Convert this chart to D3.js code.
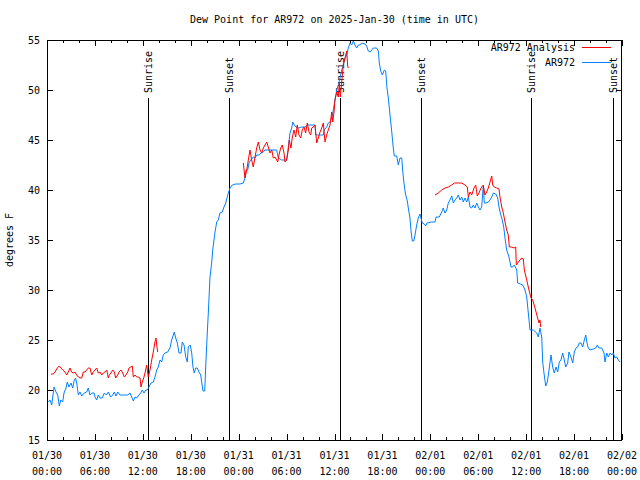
<!DOCTYPE html>
<html><head><meta charset="utf-8">
<script src="https://cdn.jsdelivr.net/npm/d3@7"></script>
<style>
body{margin:0;background:#fff;}
text{font-family:"DejaVu Sans Mono",monospace;font-size:10px;fill:#000;}
</style></head><body>
<svg id="c" width="640" height="480"></svg>
<script>
const title = "Dew Point for AR972 on 2025-Jan-30 (time in UTC)";
const yLabel = "degrees F";
const seriesNames = ["AR972 Analysis", "AR972"];
const xTickHours = [0,6,12,18,24,30,36,42,48,54,60,66,72];
const xTickDates = ["01/30","01/30","01/30","01/30","01/31","01/31","01/31","01/31","02/01","02/01","02/01","02/01","02/02"];
const xTickTimes = ["00:00","06:00","12:00","18:00","00:00","06:00","12:00","18:00","00:00","06:00","12:00","18:00","00:00"];
const yTicks = [15,20,25,30,35,40,45,50,55];
const sunHours = [12.65,22.79,36.69,46.83,60.61,70.87];
const sunLabels = ["Sunrise","Sunset","Sunrise","Sunset","Sunrise","Sunset"];

// hours since 2025-01-30 00:00 UTC
const blueHours = [0.16,0.38,0.59,0.88,1.13,1.34,1.54,1.72,1.97,2.13,2.38,2.54,2.75,3.01,3.22,3.42,3.59,3.76,3.92,4.13,4.35,4.67,4.97,5.17,5.38,5.60,5.89,6.01,6.22,6.42,6.64,6.92,7.18,7.43,7.68,7.98,8.23,8.43,8.64,8.85,9.14,9.43,9.77,10.11,10.39,10.61,10.81,11.02,11.23,11.52,11.73,11.93,12.15,12.36,12.56,12.77,13.02,13.31,13.52,13.74,13.94,14.15,14.36,14.56,14.78,15.11,15.40,15.61,15.82,15.94,16.12,16.32,16.53,16.78,16.94,17.16,17.37,17.57,17.69,17.94,18.12,18.28,18.44,18.62,18.82,19.03,19.25,19.37,19.53,19.75,19.87,20.07,20.20,20.41,20.62,20.75,20.91,21.04,21.25,21.45,21.66,21.95,22.16,22.38,22.54,22.70,22.92,23.20,23.63,24.17,24.58,24.79,24.92,25.13,25.33,25.54,25.83,26.05,26.26,26.55,26.80,27.09,27.30,28.76,28.96,29.39,30.01,30.22,30.43,30.64,30.77,30.97,31.18,31.47,31.89,32.31,32.72,33.56,33.65,34.60,34.72,35.02,35.22,35.44,35.65,35.85,36.06,36.28,36.48,36.69,36.90,37.10,37.32,37.53,37.73,37.94,38.15,38.36,38.57,38.78,38.98,39.19,39.41,39.82,40.03,40.23,40.45,40.66,40.86,41.28,41.49,41.61,41.79,41.99,42.24,42.41,42.57,42.74,42.95,43.16,43.36,43.49,43.79,43.99,44.20,44.42,44.54,44.67,44.83,44.95,45.12,45.24,45.45,45.58,45.74,45.92,46.08,46.29,46.49,46.71,46.83,46.99,47.25,47.42,47.58,48.17,48.59,48.71,49.12,49.42,49.62,49.84,50.05,50.25,50.46,50.68,50.88,51.09,51.30,51.50,51.72,51.93,52.13,52.34,52.56,52.76,52.97,53.18,53.38,53.59,53.81,54.01,54.22,54.43,54.63,54.76,54.97,55.26,55.47,55.69,55.89,56.19,56.44,56.60,56.76,57.01,57.19,57.35,57.56,57.85,58.10,58.31,58.52,58.82,58.94,59.27,59.57,59.85,60.07,60.27,60.48,60.90,61.32,61.52,61.73,61.95,62.07,62.23,62.45,62.65,62.86,63.11,63.32,63.52,63.74,63.95,64.15,64.36,64.57,64.78,64.95,65.20,65.36,65.61,65.83,66.03,66.24,66.45,66.65,66.87,67.08,67.28,67.46,67.62,67.78,67.99,68.41,68.71,68.91,69.12,69.46,69.75,69.87,70.09,70.29,70.50,70.71,70.91,71.12,71.34,71.54,71.75];
const blueDew = [18.8,19.0,18.5,20.3,19.8,19.5,18.4,19.0,18.8,19.7,20.2,20.8,20.3,20.7,20.2,21.0,21.2,20.5,19.5,19.8,19.4,19.7,19.8,20.2,19.5,19.7,19.7,19.3,19.0,19.5,19.2,19.2,19.7,19.5,19.8,19.3,19.5,19.8,19.4,19.8,19.5,19.5,19.5,19.5,19.7,19.3,18.9,19.3,19.2,19.5,19.7,20.0,19.7,20.0,20.0,20.3,20.7,20.8,21.3,22.0,22.3,23.0,22.8,23.5,23.7,23.8,24.2,25.0,25.5,25.8,25.2,24.7,23.7,23.7,24.8,24.5,23.3,22.8,24.3,24.5,23.7,22.3,21.7,22.2,22.2,21.8,21.5,20.8,19.9,19.9,22.3,25.7,27.7,31.3,32.7,34.0,35.0,35.8,36.8,37.0,37.7,37.8,38.3,38.7,39.2,39.7,40.2,40.5,40.6,40.6,40.7,41.2,42.0,42.0,42.8,43.0,43.3,43.2,43.5,43.5,43.7,43.8,44.0,44.0,43.2,43.0,43.0,44.3,45.7,46.2,46.8,46.5,46.3,46.2,46.3,46.3,46.5,46.5,45.5,45.5,46.0,46.3,46.7,46.8,47.2,48.0,49.0,50.0,50.5,51.2,52.0,52.5,53.2,53.5,54.2,54.7,54.5,54.9,54.5,54.2,54.5,54.5,54.7,54.6,54.4,53.9,53.8,54.0,54.2,54.2,53.9,52.7,51.9,51.5,52.0,51.9,50.2,49.2,47.5,45.9,44.2,43.4,43.4,42.5,43.2,43.2,41.9,40.9,39.9,39.4,38.9,38.2,37.2,35.9,34.9,34.9,35.5,36.5,37.2,37.6,37.2,36.7,36.6,36.4,36.7,36.8,36.8,37.3,37.3,37.8,38.2,37.7,38.0,38.7,39.0,39.4,38.7,39.0,39.2,39.5,39.0,39.3,38.8,39.2,38.8,39.3,38.3,38.2,38.5,38.2,38.7,38.3,38.0,38.3,40.4,38.7,38.7,38.8,39.0,39.3,39.7,39.6,39.2,38.3,37.7,37.0,36.3,35.2,34.0,33.3,32.3,32.3,32.5,32.0,30.7,30.6,30.5,30.0,29.3,27.7,26.0,26.0,25.7,25.3,26.2,25.3,22.8,21.7,20.4,20.8,22.0,23.5,22.3,21.7,22.3,21.8,22.8,23.0,23.7,23.0,22.3,22.7,23.8,23.3,22.7,23.8,24.2,24.3,24.7,24.7,24.3,25.0,25.5,24.7,24.2,24.0,24.1,24.2,24.5,24.2,24.2,23.7,22.8,23.7,23.3,23.7,23.5,23.7,23.2,23.3,23.0,22.8];

// analysis: null marks a gap
const redHours = [0.50,0.79,1.00,1.29,1.54,1.75,1.97,2.25,2.47,2.67,2.88,3.09,3.29,3.51,3.72,3.92,4.13,4.35,4.55,4.76,4.97,5.17,5.38,5.60,5.80,6.01,6.22,6.42,6.64,6.85,7.05,7.26,7.48,7.68,7.80,8.01,8.23,8.43,8.60,8.85,9.02,9.27,9.48,9.68,9.89,10.11,10.27,10.48,10.68,10.81,11.02,11.23,11.43,11.65,11.77,11.93,12.11,12.27,12.48,12.68,12.90,13.11,13.31,13.52,13.65,13.77,13.86,
  null,
  24.58,24.79,25.01,25.21,25.42,25.63,25.83,26.05,26.26,26.46,26.67,26.88,27.09,27.30,27.51,27.71,27.92,28.14,28.34,28.55,28.76,28.89,29.05,29.26,29.46,29.68,29.80,30.01,30.22,30.34,30.55,30.72,30.93,31.14,31.34,31.56,31.77,31.97,32.18,32.39,32.59,32.81,33.02,33.15,33.35,33.56,33.77,33.97,34.19,34.40,34.60,34.81,35.02,35.22,35.44,35.65,35.78,35.94,36.06,36.28,36.48,36.60,36.73,36.90,37.10,37.32,37.53,37.65,37.73,
  null,
  48.59,49.00,49.42,49.84,50.25,50.68,51.00,51.50,51.93,52.34,52.63,52.76,52.97,53.18,53.47,53.68,53.88,54.09,54.35,54.63,54.85,55.06,55.26,55.47,55.69,55.81,56.01,56.31,56.60,56.72,56.94,57.14,57.35,57.56,57.76,57.89,58.19,58.48,58.69,58.77,59.02,59.44,59.64,59.77,60.07,60.35,60.61,60.82,61.11,61.40,61.61,61.73,61.82];
const redDew = [21.6,21.6,21.8,22.2,22.4,22.2,22.0,21.8,21.5,21.8,22.2,21.8,21.7,21.8,21.5,21.3,21.2,21.2,21.8,21.8,22.0,22.2,22.2,21.5,21.8,22.0,22.2,21.7,21.8,21.5,21.7,21.8,22.0,21.2,21.5,21.7,22.0,21.8,21.2,21.5,21.8,22.0,21.7,21.3,21.5,21.8,22.2,22.3,22.4,21.3,21.5,21.3,21.3,21.2,20.3,20.8,21.2,21.7,22.5,21.3,22.0,23.0,23.8,24.8,25.2,24.3,23.8,
  null,
  42.7,41.2,42.0,43.0,44.0,43.0,42.3,43.3,44.2,44.8,44.0,43.7,44.2,44.5,44.8,44.3,43.7,44.0,43.2,43.3,43.0,42.8,43.5,44.2,44.5,43.7,42.8,43.0,44.0,45.0,44.2,45.3,46.0,45.3,46.5,45.5,45.2,46.0,46.3,45.7,46.7,45.8,45.5,46.2,46.3,46.5,44.7,45.2,45.8,46.2,46.7,44.8,45.5,46.0,46.5,47.8,46.8,47.8,49.0,49.8,49.3,50.7,49.3,50.8,52.5,53.2,53.9,52.4,52.2,
  null,
  39.5,39.7,40.0,40.2,40.3,40.5,40.7,40.7,40.7,40.5,40.3,39.3,39.8,39.5,40.2,40.5,39.4,39.7,40.2,40.5,39.5,39.8,40.2,40.8,41.4,40.5,40.3,40.2,40.1,39.3,38.3,37.7,36.8,36.0,35.5,34.3,34.3,34.2,34.3,32.5,32.8,33.2,33.1,32.0,31.0,30.0,29.2,29.0,28.2,27.3,26.7,27.0,26.3];

const W = 640, H = 480;
const m = {l:47, r:18, t:40, b:40};
const svg = d3.select("#c");
const x = d3.scaleLinear().domain([0,72]).range([m.l, W-m.r]);
const y = d3.scaleLinear().domain([15,55]).range([H-m.b, m.t]);

// title
svg.append("text").attr("x",(m.l+W-m.r)/2).attr("y",23).attr("text-anchor","middle").text(title);
svg.append("text").attr("transform",`translate(13,${(m.t+H-m.b)/2}) rotate(-90)`).attr("text-anchor","middle").text(yLabel);

const gAx = svg.append("g").attr("shape-rendering","crispEdges");
function styleAxis(g){ g.select(".domain").remove(); g.selectAll("line").attr("stroke","#000"); g.selectAll("text").remove(); }
// minor x ticks every 2 h
const minor = d3.range(0,73,2).filter(h=>h%6!==0);
gAx.append("g").attr("transform",`translate(0,${H-m.b})`).call(d3.axisBottom(x).tickValues(minor).tickSize(-3)).call(styleAxis);
gAx.append("g").attr("transform",`translate(0,${m.t})`).call(d3.axisTop(x).tickValues(minor).tickSize(-3)).call(styleAxis);
gAx.append("g").attr("transform",`translate(0,${H-m.b})`).call(d3.axisBottom(x).tickValues(xTickHours).tickSize(-6)).call(styleAxis);
gAx.append("g").attr("transform",`translate(0,${m.t})`).call(d3.axisTop(x).tickValues(xTickHours).tickSize(-6)).call(styleAxis);
gAx.append("g").attr("transform",`translate(${m.l},0)`).call(d3.axisLeft(y).tickValues(yTicks).tickSize(-6)).call(styleAxis);
gAx.append("g").attr("transform",`translate(${W-m.r},0)`).call(d3.axisRight(y).tickValues(yTicks).tickSize(-6)).call(styleAxis);

// tick labels
const xl = svg.append("g");
xTickHours.forEach((h,i)=>{
  const t = xl.append("text").attr("text-anchor","middle");
  t.append("tspan").attr("x",x(h)).attr("y",H-m.b+19).text(xTickDates[i]);
  t.append("tspan").attr("x",x(h)).attr("y",H-m.b+35).text(xTickTimes[i]);
});
svg.append("g").selectAll("text").data(yTicks).join("text")
  .attr("x",m.l-7).attr("y",d=>y(d)+4).attr("text-anchor","end").text(d=>d);

// sunrise / sunset
const sg = svg.append("g");
sunHours.forEach((h,i)=>{
  sg.append("line").attr("x1",Math.round(x(h))+0.5).attr("x2",Math.round(x(h))+0.5)
    .attr("y1",98).attr("y2",H-m.b).attr("stroke","#000").attr("stroke-width",1);
  sg.append("text").attr("transform",`translate(${x(h)+4},93) rotate(-90)`).attr("text-anchor","start").text(sunLabels[i]);
});

// series
const line = d3.line().defined((d)=>d[0]!=null).x(d=>x(d[0])).y(d=>y(d[1]));
const blue = blueHours.map((h,i)=>[h,blueDew[i]]);
const red = redHours.map((h,i)=>[h,redDew[i]]);
svg.append("path").datum(blue).attr("d",line).attr("fill","none").attr("stroke","#0080ff").attr("stroke-width",1).attr("stroke-linejoin","miter");
svg.append("path").datum(red).attr("d",line).attr("fill","none").attr("stroke","#ff0000").attr("stroke-width",1);

// border
svg.append("rect").attr("x",m.l+0.5).attr("y",m.t+0.5).attr("width",W-m.l-m.r-1).attr("height",H-m.t-m.b)
  .attr("fill","none").attr("stroke","#000").attr("shape-rendering","crispEdges");

// legend
const lg = svg.append("g");
const legColors = ["#ff0000","#0080ff"];
seriesNames.forEach((n,i)=>{
  const yy = 47 + i*15;
  lg.append("text").attr("x",575).attr("y",yy+4).attr("text-anchor","end").text(n);
  lg.append("line").attr("x1",582).attr("x2",611).attr("y1",yy+0.5).attr("y2",yy+0.5).attr("stroke",legColors[i]).attr("stroke-width",1);
});
</script></body></html>
